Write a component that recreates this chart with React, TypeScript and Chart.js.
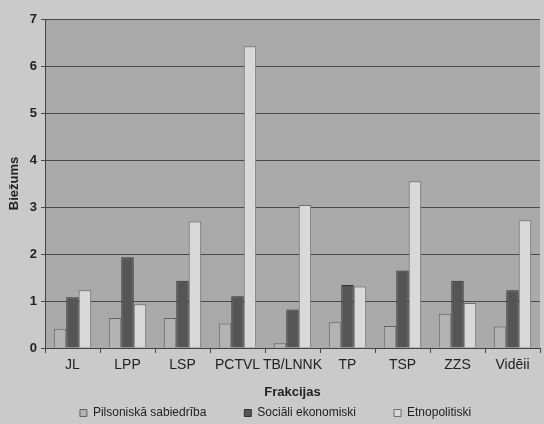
import { useEffect, useRef } from "react";
import { Chart, registerables } from "chart.js";

Chart.register(...registerables);

const categories = ["JL", "LPP", "LSP", "PCTVL", "TB/LNNK", "TP", "TSP", "ZZS", "Vidēji"];
const seriesNames = ["Pilsoniskā sabiedrība", "Sociāli ekonomiski", "Etnopolitiski"];
const pilsoniska = [0.41, 0.64, 0.64, 0.52, 0.1, 0.55, 0.47, 0.73, 0.46];
const sociali = [1.08, 1.93, 1.43, 1.1, 0.82, 1.34, 1.65, 1.43, 1.23];
const etnopolitiski = [1.23, 0.93, 2.69, 6.42, 3.04, 1.31, 3.55, 0.96, 2.72];
const yTicks = [0, 1, 2, 3, 4, 5, 6, 7];
const xTitle = "Frakcijas";
const yTitle = "Biežums";

const FAMILY = "'Liberation Sans', Arial, Helvetica, sans-serif";

function makePattern(a: string, b: string): CanvasPattern | string {
  const c = document.createElement("canvas");
  c.width = 2;
  c.height = 2;
  const g = c.getContext("2d");
  if (!g) return a;
  g.fillStyle = a;
  g.fillRect(0, 0, 2, 2);
  g.fillStyle = b;
  g.fillRect(0, 0, 1, 1);
  g.fillRect(1, 1, 1, 1);
  const p = g.createPattern(c, "repeat");
  return p || a;
}

export default function App() {
  const ref = useRef<HTMLCanvasElement | null>(null);

  useEffect(() => {
    if (!ref.current) return;
    const plotFill = makePattern("#a5a5a5", "#aeaeae");
    const darkFill = makePattern("#4c4c4c", "#5e5e5e");

    const bgPlugin = {
      id: "bgPlugin",
      beforeDraw(chart: any) {
        const { ctx, chartArea, width, height } = chart;
        ctx.save();
        ctx.fillStyle = "#cacaca";
        ctx.fillRect(0, 0, width, height);
        ctx.fillStyle = plotFill;
        ctx.fillRect(
          chartArea.left,
          chartArea.top,
          chartArea.right - chartArea.left,
          chartArea.bottom - chartArea.top
        );
        ctx.restore();
      },
    };

    const chart = new Chart(ref.current, {
      type: "bar",
      data: {
        labels: categories,
        datasets: [
          {
            label: seriesNames[0],
            data: pilsoniska,
            backgroundColor: "#b3b3b3",
            borderColor: "#626262",
            borderWidth: 1,
          },
          {
            label: seriesNames[1],
            data: sociali,
            backgroundColor: darkFill as any,
            borderColor: "#333333",
            borderWidth: 1,
          },
          {
            label: seriesNames[2],
            data: etnopolitiski,
            backgroundColor: "#d9d9d9",
            borderColor: "#6e6e6e",
            borderWidth: 1,
          },
        ],
      },
      plugins: [bgPlugin],
      options: {
        animation: false,
        responsive: false,
        layout: { padding: { top: 19, right: 4, bottom: 0, left: 11 } },
        datasets: { bar: { categoryPercentage: 0.68, barPercentage: 1 } },
        plugins: {
          legend: {
            position: "bottom",
            maxHeight: 55,
            labels: {
              boxWidth: 7,
              boxHeight: 7,
              padding: 38,
              color: "#222",
              font: { size: 12, family: FAMILY },
            },
          },
          tooltip: { enabled: false },
        },
        scales: {
          x: {
            grid: {
              display: true,
              drawOnChartArea: false,
              drawTicks: true,
              tickLength: 5,
              color: "#444",
            },
            border: { color: "#444" },
            ticks: {
              color: "#222",
              font: { size: 14, family: FAMILY },
              padding: 4,
              maxRotation: 0,
              autoSkip: false,
            },
            title: {
              display: true,
              text: xTitle,
              color: "#222",
              font: { size: 13, weight: "bold", family: FAMILY },
              padding: { top: 0, bottom: -31 },
            },
            afterFit(s: any) {
              s.height = 21;
            },
          },
          y: {
            min: 0,
            max: 7,
            afterBuildTicks(s: any) {
              s.ticks = yTicks.map((v) => ({ value: v }));
            },
            ticks: {
              color: "#222",
              font: { size: 13, weight: "bold", family: FAMILY },
              padding: 4,
            },
            grid: { color: "#4a4a4a", tickLength: 4 },
            border: { color: "#444" },
            title: {
              display: true,
              text: yTitle,
              color: "#222",
              font: { size: 13, weight: "bold", family: FAMILY },
              padding: { top: -4, bottom: 0 },
            },
            afterFit(s: any) {
              s.width = 34;
            },
          },
        },
      },
    } as any);

    return () => chart.destroy();
  }, []);

  return (
    <div style={{ position: "fixed", left: 0, top: 0, width: 544, height: 424 }}>
      <canvas ref={ref} width={544} height={424} />
    </div>
  );
}
